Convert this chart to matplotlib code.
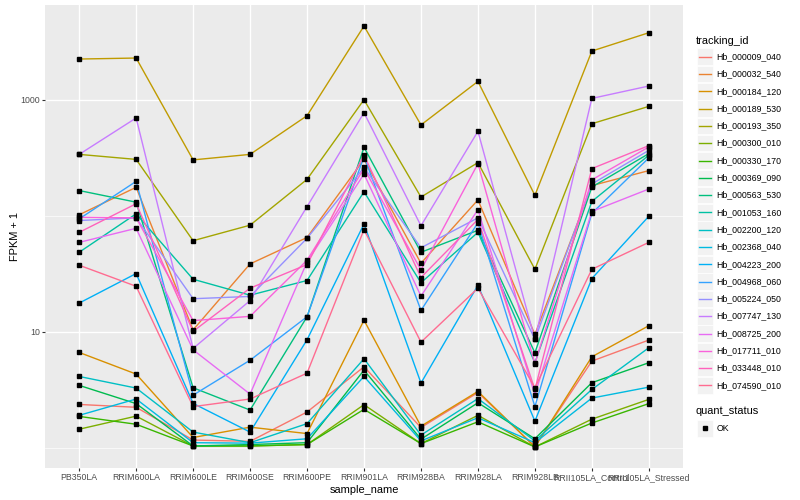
import matplotlib.pyplot as plt
from matplotlib.patches import Rectangle
from matplotlib.lines import Line2D
import numpy as np

plt.rcParams['font.family'] = ['Liberation Sans', 'DejaVu Sans']

samples = ['PB350LA', 'RRIM600LA', 'RRIM600LE', 'RRIM600SE', 'RRIM600PE', 'RRIM901LA',
           'RRIM928BA', 'RRIM928LA', 'RRIM928LB', 'RRII105LA_Control', 'RRII105LA_Stressed']

tracking_ids = ['Hb_000009_040', 'Hb_000032_540', 'Hb_000184_120', 'Hb_000189_530',
                'Hb_000193_350', 'Hb_000300_010', 'Hb_000330_170', 'Hb_000369_090',
                'Hb_000563_530', 'Hb_001053_160', 'Hb_002200_120', 'Hb_002368_040',
                'Hb_004223_200', 'Hb_004968_060', 'Hb_005224_050', 'Hb_007747_130',
                'Hb_008725_200', 'Hb_017711_010', 'Hb_033448_010', 'Hb_074590_010']

# FPKM + 1 per sample, in the order of `samples`
hb_000009_040 = [2.37, 2.24, 1.17, 1.14, 2.04, 5.0, 1.5, 3.0, 1.03, 5.6, 8.5]
hb_000032_540 = [102, 176, 10.4, 38.5, 65, 306, 39, 137, 9.5, 182, 245]
hb_000184_120 = [6.65, 4.33, 1.23, 1.51, 1.33, 12.6, 1.54, 3.07, 1.02, 6.1, 11.3]
hb_000189_530 = [2240, 2285, 303, 338, 728, 4310, 606, 1437, 150, 2625, 3775]
hb_000193_350 = [338, 306, 61, 83, 206, 1000, 145, 287, 34.6, 621, 876]
hb_000300_010 = [1.45, 1.88, 1.04, 1.04, 1.07, 2.36, 1.09, 1.91, 1.02, 1.77, 2.62]
hb_000330_170 = [1.87, 1.60, 1.04, 1.04, 1.07, 2.15, 1.09, 1.68, 1.02, 1.64, 2.41]
hb_000369_090 = [3.46, 2.41, 1.04, 1.07, 1.11, 4.68, 1.19, 2.45, 1.2, 3.65, 5.42]
hb_000563_530 = [165, 131, 3.3, 2.12, 13.5, 389, 48.5, 75, 6.6, 177, 343]
hb_001053_160 = [48.5, 104, 28.4, 20.7, 27.7, 161, 26.5, 72, 5.42, 133, 332]
hb_002200_120 = [4.13, 3.28, 1.37, 1.11, 1.62, 5.87, 1.29, 2.66, 1.15, 3.19, 7.3]
hb_002368_040 = [1.91, 2.64, 1.11, 1.10, 1.20, 4.13, 1.15, 1.82, 1.11, 2.69, 3.34]
hb_004223_200 = [17.7, 31.8, 2.42, 1.37, 8.55, 85, 3.62, 25.2, 1.70, 28.8, 99]
hb_004968_060 = [94, 198, 2.85, 5.7, 13.5, 325, 15.3, 87, 2.27, 105, 315]
hb_005224_050 = [91, 96, 19.3, 20.2, 64, 261, 53, 96, 8.6, 188, 366]
hb_007747_130 = [338, 696, 7.2, 18.6, 120, 773, 82, 534, 8.6, 1026, 1312]
hb_008725_200 = [59, 78, 7.0, 2.91, 40, 229, 20.3, 113, 2.88, 109, 170]
hb_017711_010 = [97, 96, 12.5, 13.6, 41.4, 255, 34.2, 281, 5.31, 204, 392]
hb_033448_010 = [72, 127, 10.1, 23.8, 38, 334, 29.4, 93, 3.19, 255, 402]
hb_074590_010 = [37.5, 24.7, 2.27, 2.64, 4.41, 76, 8.15, 23.8, 3.30, 34.6, 59]

series = [hb_000009_040, hb_000032_540, hb_000184_120, hb_000189_530, hb_000193_350,
          hb_000300_010, hb_000330_170, hb_000369_090, hb_000563_530, hb_001053_160,
          hb_002200_120, hb_002368_040, hb_004223_200, hb_004968_060, hb_005224_050,
          hb_007747_130, hb_008725_200, hb_017711_010, hb_033448_010, hb_074590_010]

# ggplot default hue palette for 20 groups
palette = ['#F8766D', '#EA8331', '#D89000', '#C09B00', '#A3A500', '#7CAE00', '#39B600',
           '#00BB4E', '#00BF7D', '#00C1A3', '#00BFC4', '#00BAE0', '#00B0F6', '#35A2FF',
           '#9590FF', '#C77CFF', '#E76BF3', '#FA62DB', '#FF62BC', '#FF6C91']

fig = plt.figure(figsize=(8, 5), dpi=100)
ax = fig.add_axes([45 / 800, 32 / 500, 638 / 800, 463 / 500])
ax.set_facecolor('#EBEBEB')

x = np.arange(len(samples))
for vals, col in zip(series, palette):
    ax.plot(x, vals, color=col, lw=1.0, zorder=2)
for vals in series:
    ax.plot(x, vals, 's', color='black', ms=2.3, zorder=3)

ax.set_yscale('log')
logs = np.log10(np.concatenate([np.array(s, float) for s in series]))
lo, hi = logs.min(), logs.max()
pad = 0.05 * (hi - lo)
ax.set_ylim(10 ** (lo - pad), 10 ** (hi + pad))
ax.set_xlim(-0.6, len(samples) - 0.4)

ax.set_yticks([10, 1000])
ax.set_yticklabels(['10', '1000'])
ax.set_yticks([1, 100], minor=True)
ax.set_yticklabels([], minor=True)
ax.set_xticks(x)
ax.set_xticklabels(samples)

ax.grid(which='major', color='white', lw=1.0, zorder=0)
ax.grid(which='minor', axis='y', color='white', lw=0.5, zorder=0)
ax.set_axisbelow(True)
for sp in ax.spines.values():
    sp.set_visible(False)
ax.tick_params(which='major', length=2, width=0.8, color='#333333',
               labelsize=6.3, labelcolor='#4D4D4D', pad=1.6)
ax.tick_params(which='minor', length=0)

ax.set_xlabel('sample_name', fontsize=7.9, labelpad=2)
ax.set_ylabel('FPKM + 1', fontsize=7.9, labelpad=0.5)

# legend, drawn in figure pixels like ggplot's guide
def fx(px):
    return px / 800

def fy(py):
    return 1 - py / 500

fig.text(fx(696), fy(40.5), 'tracking_id', fontsize=7.9, va='center', ha='left')
for i, (name, col) in enumerate(zip(tracking_ids, palette)):
    yc = 56.7 + 17.3 * i
    fig.add_artist(Rectangle((fx(696.5), fy(yc + 8.3)), 16.3 / 800, 16.6 / 500,
                             transform=fig.transFigure, facecolor='#F2F2F2',
                             edgecolor='white', lw=0.5))
    fig.add_artist(Line2D([fx(698.5), fx(711)], [fy(yc), fy(yc)],
                          transform=fig.transFigure, color=col, lw=1.0))
    fig.text(fx(716.5), fy(yc), name, fontsize=6.3, va='center', ha='left')

fig.text(fx(696), fy(411.5), 'quant_status', fontsize=7.9, va='center', ha='left')
fig.add_artist(Rectangle((fx(696.5), fy(428.3 + 8.3)), 16.3 / 800, 16.6 / 500,
                         transform=fig.transFigure, facecolor='#F2F2F2',
                         edgecolor='white', lw=0.5))
fig.add_artist(Line2D([fx(704.6)], [fy(428.3)], transform=fig.transFigure,
                      marker='s', color='black', ms=2.3, lw=0))
fig.text(fx(716.5), fy(428.3), 'OK', fontsize=6.3, va='center', ha='left')

fig.savefig('out.png', dpi=100)
